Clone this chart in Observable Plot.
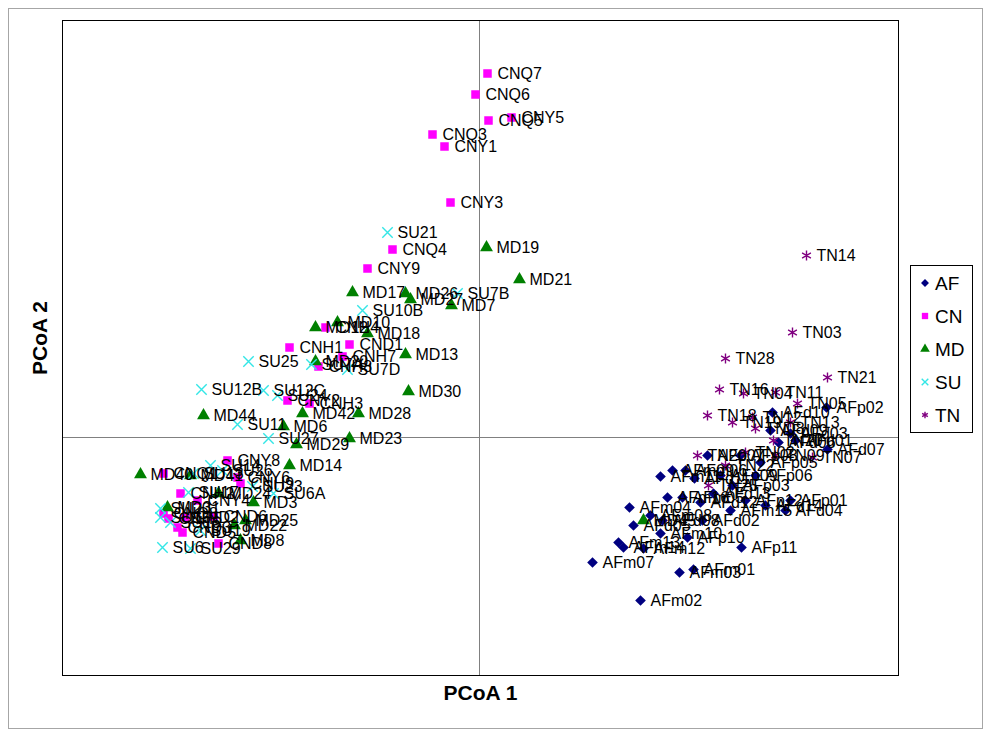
<!DOCTYPE html>
<html><head><meta charset="utf-8">
<script src="https://cdn.jsdelivr.net/npm/d3@7"></script>
<script src="https://cdn.jsdelivr.net/npm/@observablehq/plot@0.6"></script>
<style>
body{margin:0;background:#fff;font-family:"Liberation Sans",Arial,sans-serif}
#wrap{position:relative;width:992px;height:737px}
#border{position:absolute;left:8px;top:8px;width:975px;height:721px;border:1px solid #a6a6a6;box-sizing:border-box}
#chart{position:absolute;left:0;top:0}
#legend{position:absolute;left:910px;top:265px;width:63px;height:168px}
</style></head><body>
<div id="wrap"><div id="border"></div><div id="chart"></div><div id="legend"></div></div>
<script>
const groups = ["AF","CN","MD","SU","TN"];
const groupColors = ["#000080","#ff00ff","#008000","#33e6e6","#800080"];
const groupSymbols = ["diamond2","square","triangle","times","asterisk"];

const afNames = ["AFp02","AFd10","AFd09","AFd07","AFd06","AFd03","AFd01","AFp07","AFp08","AFp05","AFm06","AFm09","AFm11","AFp09","AFp06","AFp03","AFd11","AFm05","AFd12","AFd13","AFm04","AFm08","AFd05","AFd02","AFm10","AFp10","AFm12","AFm13","AFm14","AFm07","AFp11","AFm03","AFm01","AFm02","AFp01","AFd04","AFp12","AFd14","AFm15","AFd08","AFm16"];
const afX = [0.347,0.293,0.291,0.348,0.299,0.311,0.316,0.228,0.261,0.281,0.206,0.193,0.181,0.241,0.276,0.253,0.215,0.203,0.221,0.234,0.150,0.171,0.154,0.223,0.181,0.208,0.164,0.139,0.144,0.113,0.262,0.200,0.214,0.161,0.311,0.306,0.266,0.286,0.251,0.183,0.188];
const afY = [0.030,0.025,0.007,-0.012,-0.005,0.004,-0.003,-0.018,-0.018,-0.025,-0.033,-0.033,-0.039,-0.038,-0.038,-0.048,-0.041,-0.060,-0.065,-0.056,-0.070,-0.078,-0.088,-0.083,-0.096,-0.100,-0.111,-0.105,-0.110,-0.125,-0.110,-0.135,-0.132,-0.163,-0.063,-0.073,-0.063,-0.068,-0.073,-0.083,-0.060];

const cnNames = ["CNQ7","CNQ6","CNQ5","CNY5","CNQ3","CNY1","CNY3","CNQ4","CNY9","CNH4","CND1","CNH1","CNH7","CNH8","CNY2","CNH3","CNY8","CNY6","CNH9","CNQ1","CNH2","CND6","CNY4","CNQ8","CND2","CND3","CND5","CND8","CNH5"];
const cnX = [0.008,-0.004,0.009,0.032,-0.047,-0.035,-0.029,-0.087,-0.112,-0.154,-0.130,-0.190,-0.137,-0.161,-0.192,-0.170,-0.252,-0.242,-0.239,-0.316,-0.299,-0.266,-0.282,-0.316,-0.294,-0.302,-0.297,-0.261,-0.311];
const cnY = [0.364,0.343,0.317,0.320,0.303,0.291,0.235,0.188,0.169,0.110,0.093,0.090,0.081,0.071,0.037,0.034,-0.023,-0.040,-0.046,-0.036,-0.056,-0.079,-0.063,-0.076,-0.080,-0.090,-0.095,-0.106,-0.081];

const mdNames = ["MD19","MD21","MD17","MD26","MD27","MD7","MD18","MD12","MD10","MD13","MD20","MD30","MD28","MD42","MD44","MD6","MD29","MD23","MD14","MD40","MD41","MD3","MD24","MD31","MD25","MD22","MD45","MD8"];
const mdX = [0.007,0.040,-0.127,-0.074,-0.069,-0.028,-0.112,-0.164,-0.142,-0.074,-0.164,-0.071,-0.121,-0.177,-0.276,-0.196,-0.183,-0.130,-0.190,-0.339,-0.289,-0.226,-0.261,-0.312,-0.234,-0.245,0.164,-0.239];
const mdY = [0.190,0.158,0.145,0.144,0.138,0.132,0.104,0.110,0.115,0.083,0.076,0.046,0.024,0.024,0.022,0.011,-0.007,-0.001,-0.028,-0.037,-0.038,-0.065,-0.056,-0.070,-0.083,-0.088,-0.083,-0.103];

const suNames = ["SU21","SU7B","SU10B","SU25","SU7D","SU7A","SU12B","SU12C","SU24","SU11","SU27","SU13","SU14","SU23","SU6A","SU17","SU15","SU16","SU6","SU29","SU20","SU26","SU19"];
const suX = [-0.092,-0.022,-0.117,-0.231,-0.132,-0.168,-0.278,-0.216,-0.202,-0.242,-0.211,-0.286,-0.269,-0.227,-0.206,-0.291,-0.319,-0.309,-0.317,-0.289,-0.319,-0.257,-0.279];
const suY = [0.205,0.144,0.127,0.076,0.068,0.073,0.048,0.047,0.042,0.013,-0.001,-0.036,-0.028,-0.049,-0.056,-0.055,-0.080,-0.085,-0.110,-0.111,-0.071,-0.033,-0.093];

const tnNames = ["TN14","TN03","TN28","TN21","TN16","TN04","TN11","TN05","TN18","TN19","TN12","TN08","TN10","TN07","TN20","TN25","TN02","TN09","TN22","TN13"];
const tnX = [0.327,0.313,0.246,0.348,0.240,0.264,0.296,0.318,0.228,0.253,0.273,0.276,0.294,0.333,0.218,0.229,0.266,0.296,0.246,0.311];
const tnY = [0.182,0.105,0.079,0.060,0.048,0.044,0.045,0.034,0.022,0.015,0.020,0.009,-0.003,-0.020,-0.018,-0.048,-0.015,-0.018,-0.028,0.015];

const xTitle = "PCoA 1";
const yTitle = "PCoA 2";

function rows(g, names, xs, ys) { return names.map((n, i) => ({g, name: n, x: xs[i], y: ys[i]})); }
const data = [
  ...rows("AF", afNames, afX, afY),
  ...rows("CN", cnNames, cnX, cnY),
  ...rows("MD", mdNames, mdX, mdY),
  ...rows("SU", suNames, suX, suY),
  ...rows("TN", tnNames, tnX, tnY)
];
const filled = data.filter(d => ["AF","CN","MD"].includes(d.g));
const stroked = data.filter(d => ["SU","TN"].includes(d.g));

const chart = Plot.plot({
  width: 992, height: 737,
  marginLeft: 62, marginRight: 94, marginTop: 20, marginBottom: 62,
  x: {domain: [-0.417, 0.419], axis: null},
  y: {domain: [-0.238, 0.417], axis: null},
  color: {domain: groups, range: groupColors},
  symbol: {domain: groups, range: groupSymbols},
  style: {fontFamily: "'Liberation Sans', Arial, sans-serif", background: "transparent"},
  marks: [
    Plot.ruleX([0], {stroke: "#808080", strokeWidth: 1}),
    Plot.ruleY([0], {stroke: "#808080", strokeWidth: 1}),
    Plot.frame({stroke: "#000", strokeWidth: 1}),
    Plot.dot(filled, {x: "x", y: "y", symbol: "g", fill: "g", r: 4.8}),
    Plot.dot(stroked, {x: "x", y: "y", symbol: "g", stroke: "g", r: 4.8, strokeWidth: 1.4}),
    Plot.text(data, {x: "x", y: "y", text: "name", textAnchor: "start", dx: 10, fontSize: 16, fill: "#000"}),
    Plot.text([xTitle], {text: d => d, frameAnchor: "bottom", textAnchor: "middle", lineAnchor: "middle", dy: 18, fontSize: 21, fontWeight: "bold", fill: "#000"}),
    Plot.text([yTitle], {text: d => d, frameAnchor: "left", textAnchor: "middle", lineAnchor: "middle", rotate: -90, dx: -22, dy: -10, fontSize: 21, fontWeight: "bold", fill: "#000"})
  ]
});
document.getElementById("chart").appendChild(chart);

// legend
const symMap = {diamond2: d3.symbolDiamond2, square: d3.symbolSquare, triangle: d3.symbolTriangle, times: d3.symbolTimes, asterisk: d3.symbolAsterisk};
const lg = d3.select("#legend").append("svg").attr("width", 63).attr("height", 168);
lg.append("rect").attr("x", 0.5).attr("y", 0.5).attr("width", 62).attr("height", 167).attr("fill", "#fff").attr("stroke", "#000");
groups.forEach((g, i) => {
  const cy = 18 + i * 33;
  const filledSym = i < 3;
  lg.append("path")
    .attr("transform", `translate(15,${cy})`)
    .attr("d", d3.symbol(symMap[groupSymbols[i]], filledSym ? 40 : 30)())
    .attr("fill", filledSym ? groupColors[i] : "none")
    .attr("stroke", filledSym ? "none" : groupColors[i])
    .attr("stroke-width", 1.4);
  lg.append("text").attr("x", 25).attr("y", cy).attr("dy", "0.36em")
    .attr("font-size", 19).attr("font-family", "'Liberation Sans', Arial, sans-serif").text(g);
});
</script>
</body></html>
